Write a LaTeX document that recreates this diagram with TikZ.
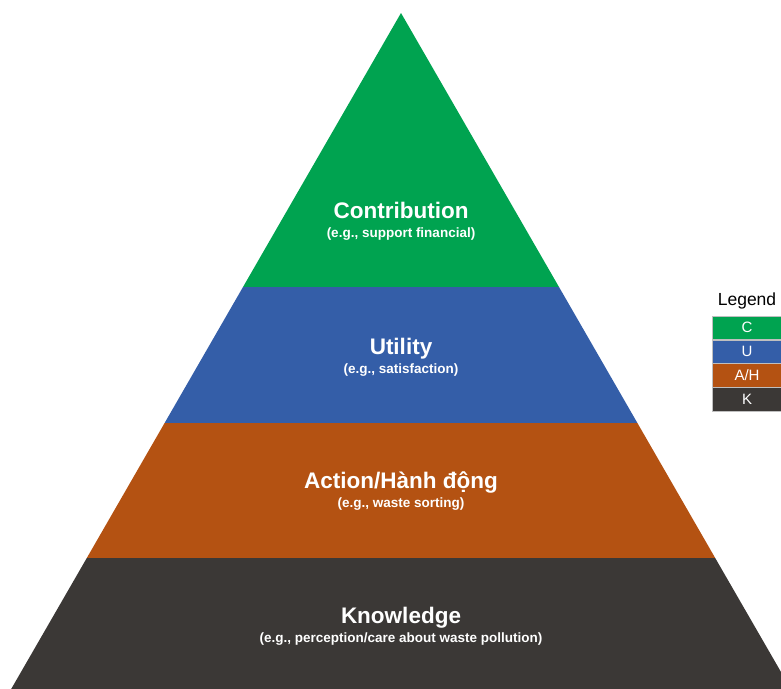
\documentclass[tikz,border=0pt]{standalone}
\usepackage{fontspec}
\setmainfont{Liberation Sans}
\usepackage{xcolor}
\usepackage{tikz}
\usetikzlibrary{shapes, positioning}

\definecolor{cgreen}{RGB}{0,163,80}
\definecolor{cblue}{RGB}{52,94,168}
\definecolor{corange}{RGB}{180,82,18}
\definecolor{cdark}{RGB}{59,56,54}

\begin{document}
\begin{tikzpicture}[
    x=1pt, y=-1pt,
    % styles for the pyramid and legend
    band/.style={fill, draw=none},
    title/.style={
        text=white, 
        font=\fontsize{22.5}{26}\selectfont\bfseries, 
        text height=16pt,
        text depth=4.5pt,
        inner sep=0pt
    },
    sub/.style={
        text=white, 
        font=\fontsize{13.5}{16}\selectfont\bfseries, 
        text height=10pt,
        text depth=3pt,
        inner sep=0pt
    },
    legbox/.style={
        rectangle, 
        draw=gray!50, 
        very thin,
        minimum width=70pt, 
        minimum height=23.5pt, 
        inner sep=0pt,
        text=white,
        font=\fontsize{15}{17}\selectfont
    }
]
    \useasboundingbox (0,0) rectangle (781,688);
    \clip (0,0) rectangle (781,688);

    % Pyramid corners
    \coordinate (apex) at (401,13);
    \coordinate (l1) at (243,287);   \coordinate (r1) at (559,287);
    \coordinate (l2) at (164.6,423); \coordinate (r2) at (637.4,423);
    \coordinate (l3) at (86.8,558);  \coordinate (r3) at (715.2,558);
    \coordinate (l4) at (8.3,694);   \coordinate (r4) at (793.7,694);

    % Bands
    \path [band, fill=cgreen] (apex) -- (r1) -- (l1) -- cycle;
    \path [band, fill=cblue] (l1) -- (r1) -- (r2) -- (l2) -- cycle;
    \path [band, fill=corange] (l2) -- (r2) -- (r3) -- (l3) -- cycle;
    \path [band, fill=cdark] (l3) -- (r3) -- (r4) -- (l4) -- cycle;

    % Labels
    \node [title] (contrib) at (401,213) {Contribution};
    \node [sub, below=4pt of contrib] (contribsub) {(e.g., support financial)};
    \node [title] (utility) at (401,349) {Utility};
    \node [sub, below=4pt of utility] (utilitysub) {(e.g., satisfaction)};
    \node [title] (action) at (401,483) {Action/Hành động};
    \node [sub, below=4pt of action] (actionsub) {(e.g., waste sorting)};
    \node [title] (know) at (401,618) {Knowledge};
    \node [sub, below=4pt of know] (knowsub) {(e.g., perception/care about waste pollution)};

    % Legend
    \node [legbox, fill=cgreen] (legC) at (747,327.75) {C};
    \node [legbox, fill=cblue, below=0pt of legC] (legU) {U};
    \node [legbox, fill=corange, below=0pt of legU] (legA) {A/H};
    \node [legbox, fill=cdark, below=0pt of legA] (legK) {K};
    \node [above=7pt of legC, inner sep=0pt, font=\fontsize{17.5}{20}\selectfont] (legtitle) {Legend};
\end{tikzpicture}
\end{document}
